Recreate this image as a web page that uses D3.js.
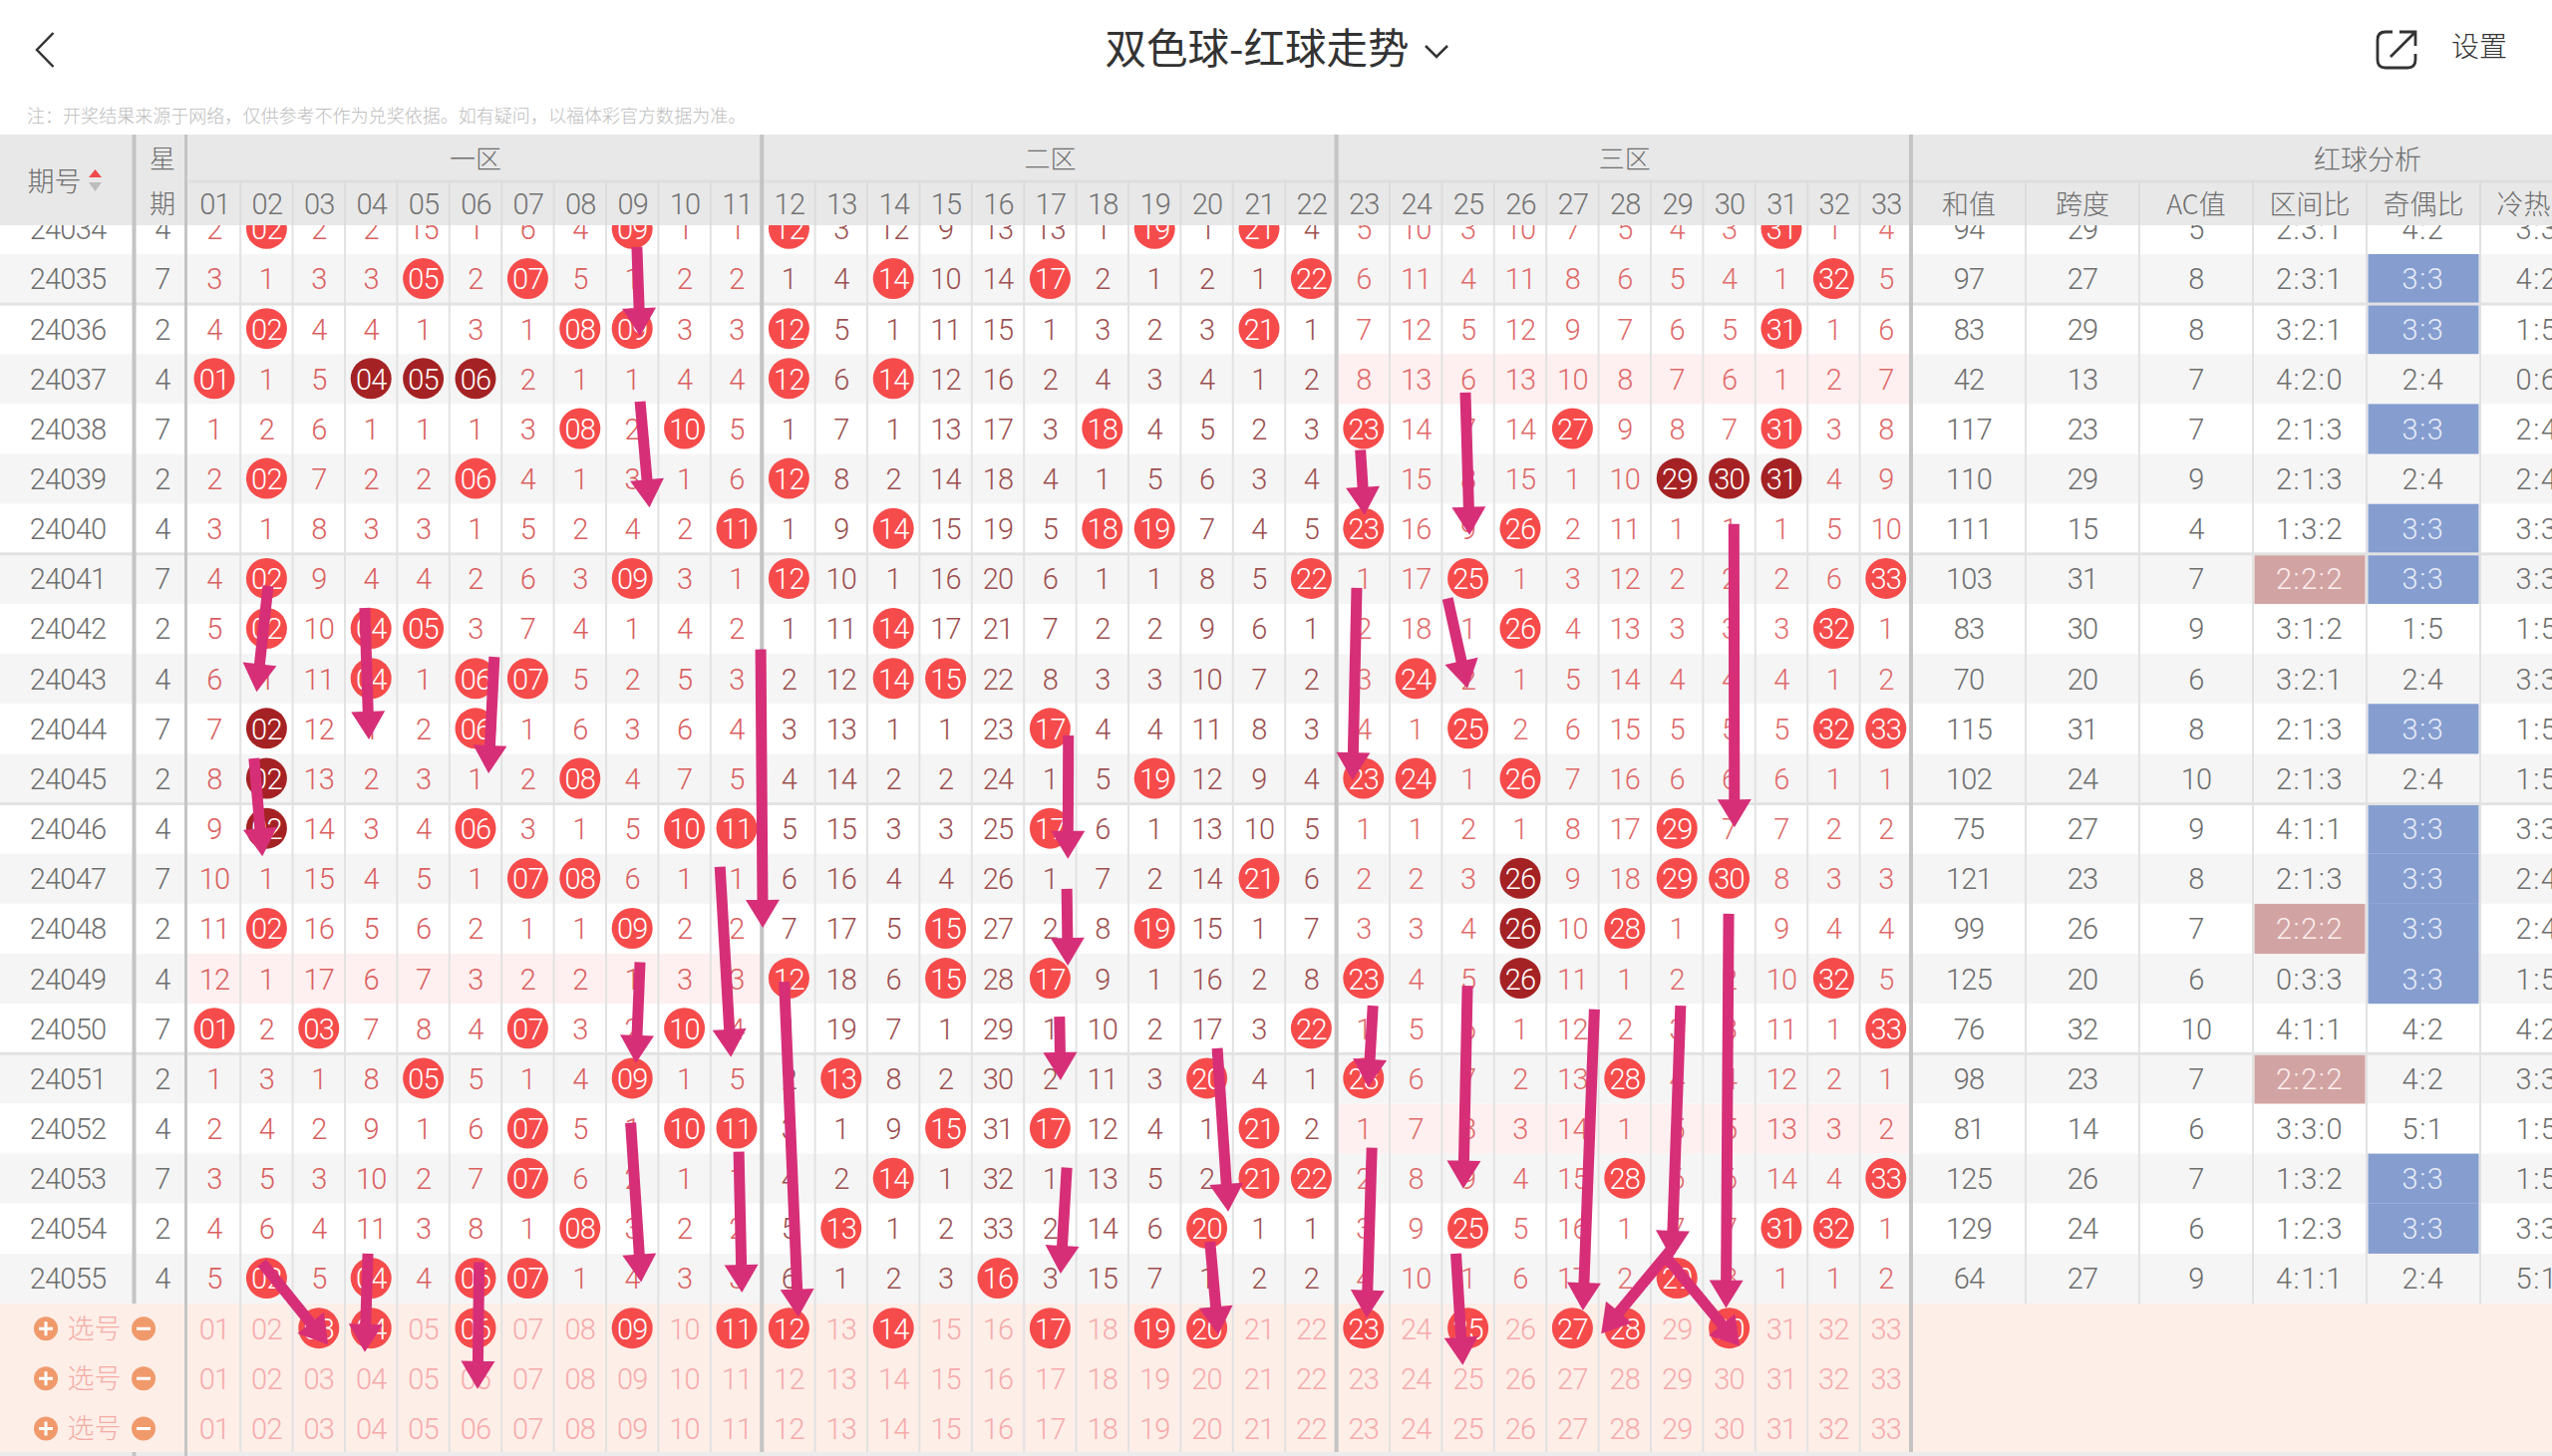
<!DOCTYPE html>
<html>
<head>
<meta charset="utf-8">
<title>双色球-红球走势</title>
<script src="https://cdn.jsdelivr.net/npm/d3@7"></script>
<style>
    html, body { margin: 0; padding: 0; background: #fff; overflow: hidden; }
    svg { display: block; }
    text { font-family: Roboto, "Noto Sans CJK SC", sans-serif; font-weight: 300; text-anchor: middle; }
    .num { letter-spacing: -0.8px; }
    .ratio { letter-spacing: 1.5px; }
    .cjk { font-family: "Noto Sans CJK SC", sans-serif; font-weight: 300; letter-spacing: 0; }
</style>
</head>
<body>
<div class="chart"></div>
<script>
// issue numbers and the weekday they were drawn on
const issues = [24034, 24035, 24036, 24037, 24038, 24039, 24040, 24041, 24042, 24043, 24044,
                24045, 24046, 24047, 24048, 24049, 24050, 24051, 24052, 24053, 24054, 24055];
const weekdays = [4, 7, 2, 4, 7, 2, 4, 7, 2, 4, 7, 2, 4, 7, 2, 4, 7, 2, 4, 7, 2, 4];

// misses per ball 01-33, one row per issue. 0 means the ball was drawn
const missRows = [
    [2,0,2,2,15,1,6,4,0,1,1, 0,3,12,9,13,13,1,0,1,0,4, 5,10,3,10,7,5,4,3,0,1,4],
    [3,1,3,3,0,2,0,5,1,2,2, 1,4,0,10,14,0,2,1,2,1,0, 6,11,4,11,8,6,5,4,1,0,5],
    [4,0,4,4,1,3,1,0,0,3,3, 0,5,1,11,15,1,3,2,3,0,1, 7,12,5,12,9,7,6,5,0,1,6],
    [0,1,5,0,0,0,2,1,1,4,4, 0,6,0,12,16,2,4,3,4,1,2, 8,13,6,13,10,8,7,6,1,2,7],
    [1,2,6,1,1,1,3,0,2,0,5, 1,7,1,13,17,3,0,4,5,2,3, 0,14,7,14,0,9,8,7,0,3,8],
    [2,0,7,2,2,0,4,1,3,1,6, 0,8,2,14,18,4,1,5,6,3,4, 1,15,8,15,1,10,0,0,0,4,9],
    [3,1,8,3,3,1,5,2,4,2,0, 1,9,0,15,19,5,0,0,7,4,5, 0,16,9,0,2,11,1,1,1,5,10],
    [4,0,9,4,4,2,6,3,0,3,1, 0,10,1,16,20,6,1,1,8,5,0, 1,17,0,1,3,12,2,2,2,6,0],
    [5,0,10,0,0,3,7,4,1,4,2, 1,11,0,17,21,7,2,2,9,6,1, 2,18,1,0,4,13,3,3,3,0,1],
    [6,1,11,0,1,0,0,5,2,5,3, 2,12,0,0,22,8,3,3,10,7,2, 3,0,2,1,5,14,4,4,4,1,2],
    [7,0,12,1,2,0,1,6,3,6,4, 3,13,1,1,23,0,4,4,11,8,3, 4,1,0,2,6,15,5,5,5,0,0],
    [8,0,13,2,3,1,2,0,4,7,5, 4,14,2,2,24,1,5,0,12,9,4, 0,0,1,0,7,16,6,6,6,1,1],
    [9,0,14,3,4,0,3,1,5,0,0, 5,15,3,3,25,0,6,1,13,10,5, 1,1,2,1,8,17,0,7,7,2,2],
    [10,1,15,4,5,1,0,0,6,1,1, 6,16,4,4,26,1,7,2,14,0,6, 2,2,3,0,9,18,0,0,8,3,3],
    [11,0,16,5,6,2,1,1,0,2,2, 7,17,5,0,27,2,8,0,15,1,7, 3,3,4,0,10,0,1,1,9,4,4],
    [12,1,17,6,7,3,2,2,1,3,3, 0,18,6,0,28,0,9,1,16,2,8, 0,4,5,0,11,1,2,2,10,0,5],
    [0,2,0,7,8,4,0,3,2,0,4, 1,19,7,1,29,1,10,2,17,3,0, 1,5,6,1,12,2,3,3,11,1,0],
    [1,3,1,8,0,5,1,4,0,1,5, 2,0,8,2,30,2,11,3,0,4,1, 0,6,7,2,13,0,4,4,12,2,1],
    [2,4,2,9,1,6,0,5,1,0,0, 3,1,9,0,31,0,12,4,1,0,2, 1,7,8,3,14,1,5,5,13,3,2],
    [3,5,3,10,2,7,0,6,2,1,1, 4,2,0,1,32,1,13,5,2,0,0, 2,8,9,4,15,0,6,6,14,4,0],
    [4,6,4,11,3,8,1,0,3,2,2, 5,0,1,2,33,2,14,6,0,1,1, 3,9,0,5,16,1,7,7,0,0,1],
    [5,0,5,0,4,0,0,1,4,3,3, 6,1,2,3,0,3,15,7,1,2,2, 4,10,1,6,17,2,0,8,1,1,2]
];

// balls shown dark, as [issue, ball]: three in a row across or down
const darkBalls = [[24037,4],[24037,5],[24037,6],[24039,29],[24039,30],[24039,31],
                   [24044,2],[24045,2],[24046,2],[24047,26],[24048,26],[24049,26]];

// the three empty rows at the bottom, only the first has picks
const pickLabels = ['选号', '选号', '选号'];
const pickedBalls = [[3,4,6,9,11,12,14,17,19,20,23,25,27,28,30], [], []];

// red ball analysis columns
const analysisHeads = ['和值', '跨度', 'AC值', '区间比', '奇偶比', '冷热比'];
const sums = [94,97,83,42,117,110,111,103,83,70,115,102,75,121,99,125,76,98,81,125,129,64];
const spans = [29,27,29,13,23,29,15,31,30,20,31,24,27,23,26,20,32,23,14,26,24,27];
const acValues = [5,8,8,7,7,9,4,7,9,6,8,10,9,8,7,6,10,7,6,7,6,9];
const zoneRatios = ['2:3:1','2:3:1','3:2:1','4:2:0','2:1:3','2:1:3','1:3:2','2:2:2','3:1:2','3:2:1','2:1:3',
                    '2:1:3','4:1:1','2:1:3','2:2:2','0:3:3','4:1:1','2:2:2','3:3:0','1:3:2','1:2:3','4:1:1'];
const oddEven = ['4:2','3:3','3:3','2:4','3:3','2:4','3:3','3:3','1:5','2:4','3:3',
                 '2:4','3:3','3:3','3:3','3:3','4:2','4:2','5:1','3:3','3:3','2:4'];
const coldHot = ['3:3','4:2','1:5','0:6','2:4','2:4','3:3','3:3','1:5','3:3','1:5',
                 '1:5','3:3','2:4','2:4','1:5','4:2','3:3','1:5','1:5','3:3','5:1'];

// zones
const zoneNames = ['一区', '二区', '三区'];
const zoneRanges = [[1, 11], [12, 22], [23, 33]];

// hand drawn arrows on the screenshot, [from ball, from issue, to ball, to issue]
const arrows = [
    [9.09,24034.36,9.15,24036.14], [9.15,24037.45,9.33,24039.57], [2.03,24041.14,1.81,24043.26],
    [3.88,24041.58,3.96,24044.21], [6.36,24042.56,6.25,24044.89], [1.76,24044.59,1.92,24046.55],
    [11.46,24042.41,11.50,24047.98], [10.68,24046.76,10.89,24050.57], [9.15,24048.67,9.07,24050.69],
    [11.91,24049.06,12.18,24055.77], [8.97,24051.88,9.17,24055.07], [11.04,24052.46,11.10,24055.28],
    [1.91,24054.68,3.18,24056.32], [3.94,24054.50,3.88,24056.47], [6.07,24054.67,6.04,24057.21],
    [17.35,24044.13,17.34,24046.60], [17.32,24047.20,17.34,24048.74], [17.18,24049.76,17.20,24051.03],
    [17.32,24052.78,17.20,24054.90], [20.20,24050.39,20.41,24053.66], [20.06,24054.26,20.22,24056.12],
    [22.94,24038.42,23.02,24039.72], [24.95,24037.27,25.03,24040.12], [22.87,24041.18,22.79,24045.03],
    [24.61,24041.39,24.99,24043.19], [30.09,24039.90,30.10,24045.97], [29.99,24047.70,29.94,24055.59],
    [23.18,24049.54,23.09,24051.17], [23.16,24052.38,23.06,24055.79], [24.99,24049.14,24.91,24053.20],
    [24.77,24054.50,24.90,24056.73], [27.42,24049.61,27.20,24055.64], [29.07,24049.54,28.90,24054.60],
    [28.90,24054.40,27.55,24056.10], [28.82,24054.60,30.20,24056.35]
];

const balls = d3.range(1, 34);
const pad = d => String(d).padStart(2, '0');

const width = 2560, height = 1461;
const headTop = 135, headMid = 182, headBottom = 226;

const xBall = d3.scaleLinear().domain([1, 33]).range([215, 1891.8]);
const yIssue = d3.scaleLinear().domain([24035, 24055]).range([280, 1283]);
const xAna = d3.scaleBand().domain(analysisHeads).range([1918, 2602]);

const colLeft = xBall(0.5);
const rowTop = d => yIssue(d - 0.5);
const rowH = yIssue(1) - yIssue(0);

const zoneColors = ['#da5f5f', '#9c4f4f', '#e06a6a'];
const zoneOf = b => zoneRanges.findIndex(z => b >= z[0] && b <= z[1]);

const svg = d3.select('.chart').append('svg').attr('width', width).attr('height', height);

// row backgrounds
svg.append('g').selectAll('rect').data(issues).enter().append('rect')
    .attr('x', 0).attr('width', width)
    .attr('y', d => rowTop(d)).attr('height', rowH)
    .attr('fill', (d, i) => i % 2 ? '#f5f5f5' : '#ffffff');

// a zone with no ball gets a pink band
issues.forEach((iss, i) => {
    zoneRatios[i].split(':').forEach((v, z) => {
        if (v === '0') {
            svg.append('rect')
                .attr('x', xBall(zoneRanges[z][0] - 0.5))
                .attr('width', xBall(zoneRanges[z][1] + 0.5) - xBall(zoneRanges[z][0] - 0.5))
                .attr('y', rowTop(iss)).attr('height', rowH)
                .attr('fill', '#fef0f0');
        }
    });
});

// pick rows background
const pickIssues = pickLabels.map((d, i) => 24056 + i);
svg.append('rect').attr('x', 0).attr('width', width)
    .attr('y', rowTop(24056)).attr('height', 149).attr('fill', '#fdeee8');

// coloured cells of the analysis columns
const anaCell = (list, head, match, color) => {
    svg.append('g').selectAll('rect').data(issues.filter((d, i) => list[i] === match)).enter().append('rect')
        .attr('x', xAna(head) + 1.5).attr('width', xAna.bandwidth() - 3)
        .attr('y', d => rowTop(d)).attr('height', rowH)
        .attr('fill', color);
};
anaCell(oddEven, '奇偶比', '3:3', '#859dcf');
anaCell(zoneRatios, '区间比', '2:2:2', '#d2a3a3');

// thin grid lines, the analysis ones stop above the pick rows
const gridBalls = balls.map(b => xBall(b + 0.5));
const gridAna = analysisHeads.slice(1).map(d => xAna(d));
svg.append('g').selectAll('line').data(gridBalls).enter().append('line')
    .attr('x1', d => d).attr('x2', d => d)
    .attr('y1', headMid).attr('y2', 1457)
    .attr('stroke', '#e2e2e2').attr('stroke-width', 2);
svg.append('g').selectAll('line').data(gridAna).enter().append('line')
    .attr('x1', d => d).attr('x2', d => d)
    .attr('y1', headMid).attr('y2', rowTop(24056))
    .attr('stroke', '#e2e2e2').attr('stroke-width', 2);

// every fifth row has a heavier rule
svg.append('g').selectAll('rect').data([24035, 24040, 24045, 24050]).enter().append('rect')
    .attr('x', 0).attr('width', width)
    .attr('y', d => rowTop(d + 1) - 1.5).attr('height', 3)
    .attr('fill', '#e2e2e2');

// balls and miss numbers
const cells = [];
issues.forEach((iss, r) => {
    missRows[r].forEach((m, c) => cells.push({issue: iss, ball: c + 1, miss: m}));
});
const isDark = d => darkBalls.some(k => k[0] === d.issue && k[1] === d.ball);

const body = svg.append('g');
body.selectAll('circle').data(cells.filter(d => d.miss === 0)).enter().append('circle')
    .attr('cx', d => xBall(d.ball)).attr('cy', d => yIssue(d.issue) - 0.5)
    .attr('r', 20.5)
    .attr('fill', d => isDark(d) ? '#a52224' : '#f64b4b');
body.selectAll('text').data(cells).enter().append('text')
    .attr('class', 'num')
    .attr('x', d => xBall(d.ball)).attr('y', d => yIssue(d.issue))
    .attr('dy', '.36em')
    .attr('font-size', 29)
    .attr('fill', d => d.miss === 0 ? '#fff' : zoneColors[zoneOf(d.ball)])
    .text(d => d.miss === 0 ? pad(d.ball) : d.miss);

// pick rows
pickIssues.forEach((iss, r) => {
    const row = svg.append('g');
    row.selectAll('circle').data(pickedBalls[r]).enter().append('circle')
        .attr('cx', d => xBall(d)).attr('cy', yIssue(iss) - 0.5)
        .attr('r', 20.5).attr('fill', '#f64b4b');
    row.selectAll('text').data(balls).enter().append('text')
        .attr('class', 'num')
        .attr('x', d => xBall(d)).attr('y', yIssue(iss))
        .attr('dy', '.36em')
        .attr('font-size', 29)
        .attr('fill', d => pickedBalls[r].includes(d) ? '#fff' : '#f6abab')
        .text(pad);

    // plus, label, minus
    row.append('circle').attr('cx', 46).attr('cy', yIssue(iss)).attr('r', 12).attr('fill', '#f09a6c');
    row.append('circle').attr('cx', 144).attr('cy', yIssue(iss)).attr('r', 12).attr('fill', '#f09a6c');
    row.append('path')
        .attr('d', `M39 ${yIssue(iss)}H53M46 ${yIssue(iss) - 7}V${yIssue(iss) + 7}M137 ${yIssue(iss)}H151`)
        .attr('stroke', '#fff').attr('stroke-width', 3);
    row.append('text').attr('class', 'cjk')
        .attr('x', 94.5).attr('y', yIssue(iss)).attr('dy', '.36em')
        .attr('font-size', 27).attr('fill', '#f4aca4')
        .text(pickLabels[r]);
});

// left columns and analysis values
const leftText = svg.append('g').attr('fill', '#6e6e6e');
issues.forEach((iss, i) => {
    const addText = (x, txt, fill, cls) => leftText.append('text').attr('class', cls || 'num')
        .attr('x', x).attr('y', yIssue(iss)).attr('dy', '.36em')
        .attr('font-size', 29).attr('fill', fill || '#6e6e6e').text(txt);
    const mid = h => xAna(h) + xAna.bandwidth() / 2;
    addText(68, iss);
    addText(163, weekdays[i]);
    addText(mid('和值'), sums[i]);
    addText(mid('跨度'), spans[i]);
    addText(mid('AC值'), acValues[i]);
    addText(mid('区间比'), zoneRatios[i], zoneRatios[i] === '2:2:2' ? '#fbeeee' : null, 'ratio');
    addText(mid('奇偶比'), oddEven[i], oddEven[i] === '3:3' ? '#e6ecf8' : null, 'ratio');
    addText(mid('冷热比'), coldHot[i], null, 'ratio');
});

// header block, drawn last so it cuts off the first row
const header = svg.append('g');
header.append('rect').attr('x', 0).attr('y', 0).attr('width', width).attr('height', headTop).attr('fill', '#fff');
header.append('rect').attr('x', 0).attr('y', headTop).attr('width', width)
    .attr('height', headBottom - headTop).attr('fill', '#e8e8e8');
header.append('rect').attr('x', colLeft).attr('y', headMid - 1.5).attr('width', width - colLeft)
    .attr('height', 3).attr('fill', '#dedede');
header.selectAll('.subline').data(gridBalls.concat(gridAna)).enter().append('line')
    .attr('class', 'subline')
    .attr('x1', d => d).attr('x2', d => d)
    .attr('y1', headMid).attr('y2', headBottom)
    .attr('stroke', '#dcdcdc').attr('stroke-width', 2);

// ball numbers along the top, from the same x scale
const topAxis = svg.append('g')
    .attr('transform', `translate(0, ${205})`)
    .call(d3.axisTop(xBall).tickValues(balls).tickFormat(pad).tickSize(0).tickPadding(0));
topAxis.select('.domain').remove();
topAxis.selectAll('text')
    .attr('class', 'num')
    .attr('y', 0).attr('dy', '.36em')
    .attr('font-size', 29)
    .attr('fill', '#737373');

const headText = (x, y, txt, size, fill) => svg.append('text').attr('class', 'cjk')
    .attr('x', x).attr('y', y).attr('dy', '.36em')
    .attr('font-size', size).attr('fill', fill || '#6e6e6e').text(txt);

zoneNames.forEach((z, i) => {
    headText((xBall(zoneRanges[i][0] - 0.5) + xBall(zoneRanges[i][1] + 0.5)) / 2, 160, z, 26);
});
analysisHeads.forEach(h => headText(xAna(h) + xAna.bandwidth() / 2, 205, h, 27));
headText(2375, 160, '红球分析', 27);
headText(163, 160, '星', 26);
headText(163, 205, '期', 26);
headText(54.5, 182, '期号', 27);

// sort arrows next to 期号
svg.append('path').attr('d', 'M89 178L95.5 170L102 178Z').attr('fill', '#f04b4b');
svg.append('path').attr('d', 'M89 183L95.5 192L102 183Z').attr('fill', '#bdbdbd');

// thick zone dividers
const dividers = [xBall(11.5), xBall(22.5), xBall(33.5)];
svg.append('g').selectAll('rect').data(dividers).enter().append('rect')
    .attr('x', d => d - 3).attr('width', 4)
    .attr('y', headTop).attr('height', 1457 - headTop)
    .attr('fill', '#c4c4c4');
svg.append('rect').attr('x', 185).attr('width', 3).attr('y', headTop).attr('height', 1457 - headTop).attr('fill', '#c4c4c4');
svg.append('rect').attr('x', 132.5).attr('width', 4).attr('y', headTop).attr('height', rowTop(24056) - headTop).attr('fill', '#c4c4c4');

// bottom strip
svg.append('rect').attr('x', 0).attr('y', 1457).attr('width', width).attr('height', 4).attr('fill', '#ececec');
svg.append('rect').attr('x', 132.5).attr('y', 1457).attr('width', 4).attr('height', 4).attr('fill', '#c4c4c4');
svg.append('rect').attr('x', 185).attr('y', 1457).attr('width', 3).attr('height', 4).attr('fill', '#c4c4c4');

// the magenta arrows
const shaftW = 11, headW = 34, headL = 28;
const arrowLine = d3.line();
svg.append('g').selectAll('path').data(arrows).enter().append('path')
    .attr('fill', '#d62f78')
    .attr('d', d => {
        const x0 = xBall(d[0]), y0 = yIssue(d[1]), x1 = xBall(d[2]), y1 = yIssue(d[3]);
        const len = Math.hypot(x1 - x0, y1 - y0);
        const ux = (x1 - x0) / len, uy = (y1 - y0) / len;
        const nx = -uy, ny = ux;
        const bx = x1 - ux * headL, by = y1 - uy * headL;
        return arrowLine([
            [x0 + nx * shaftW / 2, y0 + ny * shaftW / 2],
            [bx + nx * shaftW / 2, by + ny * shaftW / 2],
            [bx + nx * headW / 2, by + ny * headW / 2],
            [x1, y1],
            [bx - nx * headW / 2, by - ny * headW / 2],
            [bx - nx * shaftW / 2, by - ny * shaftW / 2],
            [x0 - nx * shaftW / 2, y0 - ny * shaftW / 2]
        ]) + 'Z';
    });

// top bar
svg.append('path').attr('d', 'M53.5 33L37 50L53.5 67').attr('fill', 'none').attr('stroke', '#333').attr('stroke-width', 2.5);
svg.append('text').attr('class', 'cjk').attr('x', 1261).attr('y', 49).attr('dy', '.36em')
    .attr('font-size', 41.5).style('font-weight', 400).attr('fill', '#333').text('双色球-红球走势');
svg.append('path').attr('d', 'M1430 46L1441 57L1452 46').attr('fill', 'none').attr('stroke', '#333').attr('stroke-width', 2.5);
svg.append('path').attr('d', 'M2400 32H2393Q2385 32 2385 40V60Q2385 68 2393 68H2415Q2423 68 2423 60V54')
    .attr('fill', 'none').attr('stroke', '#333').attr('stroke-width', 2.8);
svg.append('path').attr('d', 'M2398 57L2423 32M2407 32H2423V46')
    .attr('fill', 'none').attr('stroke', '#333').attr('stroke-width', 2.8);
svg.append('text').attr('class', 'cjk').attr('x', 2487).attr('y', 47).attr('dy', '.36em')
    .attr('font-size', 28).attr('fill', '#333').text('设置');

svg.append('text').attr('class', 'cjk').attr('x', 27).attr('y', 116.5).attr('dy', '.36em')
    .style('text-anchor', 'start').attr('font-size', 18.05).attr('fill', '#bdbdbd')
    .text('注：开奖结果来源于网络，仅供参考不作为兑奖依据。如有疑问，以福体彩官方数据为准。');
</script>
</body>
</html>
